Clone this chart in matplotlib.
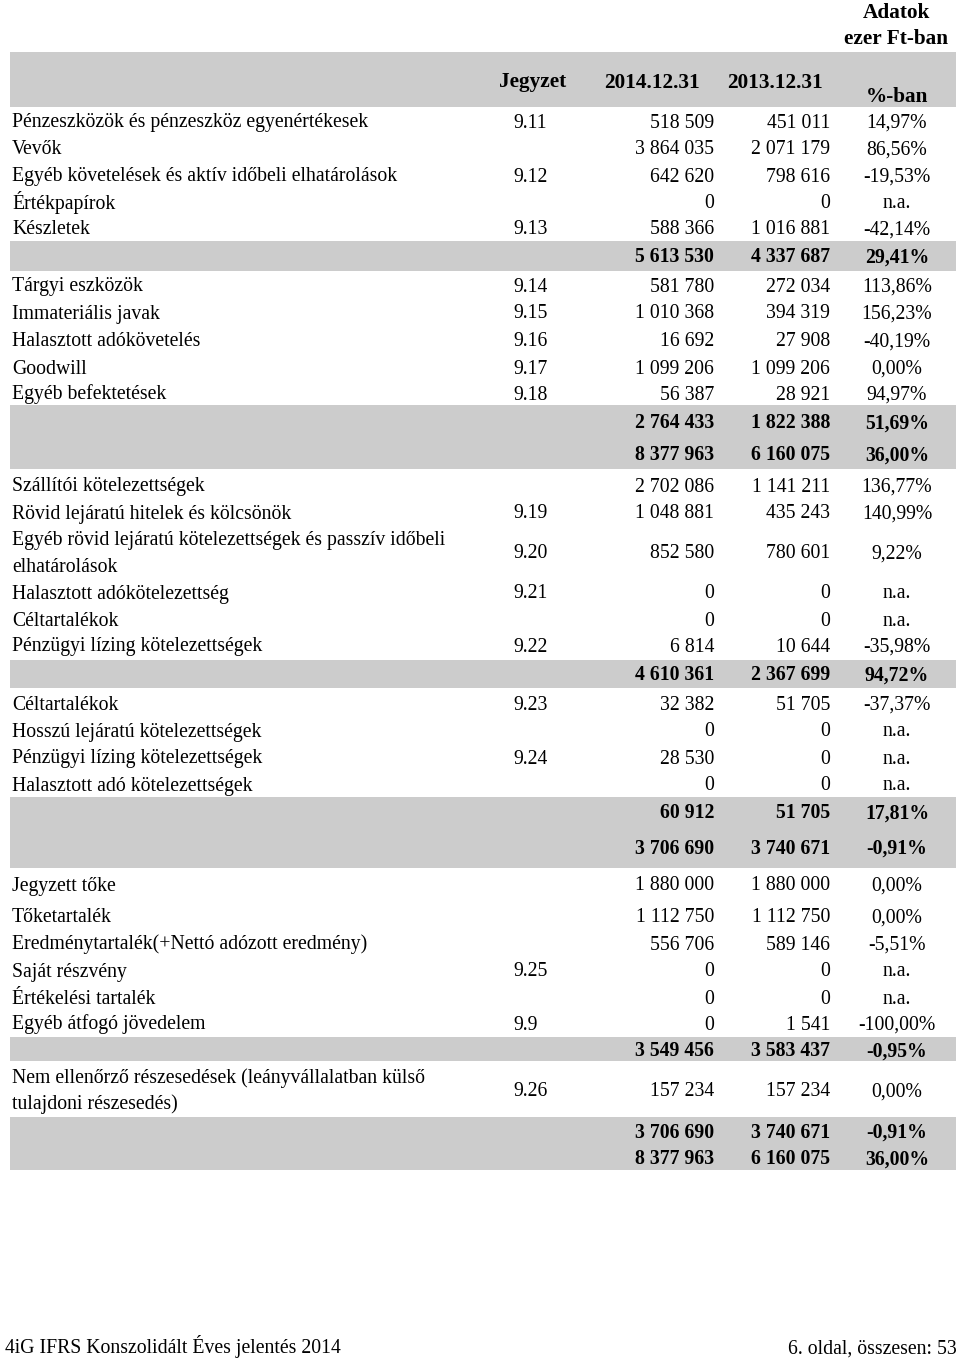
import matplotlib.pyplot as plt

# table content (empty label = subtotal row, drawn bold)
labels = [
    "Pénzeszközök és pénzeszköz egyenértékesek", "Vevők",
    "Egyéb követelések és aktív időbeli elhatárolások", "Értékpapírok", "Készletek", "",
    "Tárgyi eszközök", "Immateriális javak", "Halasztott adókövetelés", "Goodwill",
    "Egyéb befektetések", "", "",
    "Szállítói kötelezettségek", "Rövid lejáratú hitelek és kölcsönök",
    "Egyéb rövid lejáratú kötelezettségek és passzív időbeli\nelhatárolások",
    "Halasztott adókötelezettség", "Céltartalékok", "Pénzügyi lízing kötelezettségek", "",
    "Céltartalékok", "Hosszú lejáratú kötelezettségek", "Pénzügyi lízing kötelezettségek",
    "Halasztott adó kötelezettségek", "", "",
    "Jegyzett tőke", "Tőketartalék", "Eredménytartalék(+Nettó adózott eredmény)",
    "Saját részvény", "Értékelési tartalék", "Egyéb átfogó jövedelem", "",
    "Nem ellenőrző részesedések (leányvállalatban külső\ntulajdoni részesedés)", "", "",
]
notes = ["9.11", "", "9.12", "", "9.13", "",
         "9.14", "9.15", "9.16", "9.17", "9.18", "", "",
         "", "9.19", "9.20", "9.21", "", "9.22", "",
         "9.23", "", "9.24", "", "", "",
         "", "", "", "9.25", "", "9.9", "",
         "9.26", "", ""]
v2014 = ["518 509", "3 864 035", "642 620", "0", "588 366", "5 613 530",
         "581 780", "1 010 368", "16 692", "1 099 206", "56 387", "2 764 433", "8 377 963",
         "2 702 086", "1 048 881", "852 580", "0", "0", "6 814", "4 610 361",
         "32 382", "0", "28 530", "0", "60 912", "3 706 690",
         "1 880 000", "1 112 750", "556 706", "0", "0", "0", "3 549 456",
         "157 234", "3 706 690", "8 377 963"]
v2013 = ["451 011", "2 071 179", "798 616", "0", "1 016 881", "4 337 687",
         "272 034", "394 319", "27 908", "1 099 206", "28 921", "1 822 388", "6 160 075",
         "1 141 211", "435 243", "780 601", "0", "0", "10 644", "2 367 699",
         "51 705", "0", "0", "0", "51 705", "3 740 671",
         "1 880 000", "1 112 750", "589 146", "0", "0", "1 541", "3 583 437",
         "157 234", "3 740 671", "6 160 075"]
pct = ["14,97%", "86,56%", "-19,53%", "n.a.", "-42,14%", "29,41%",
       "113,86%", "156,23%", "-40,19%", "0,00%", "94,97%", "51,69%", "36,00%",
       "136,77%", "140,99%", "9,22%", "n.a.", "n.a.", "-35,98%", "94,72%",
       "-37,37%", "n.a.", "n.a.", "n.a.", "17,81%", "-0,91%",
       "0,00%", "0,00%", "-5,51%", "n.a.", "n.a.", "-100,00%", "-0,95%",
       "0,00%", "-0,91%", "36,00%"]
headers = ["Jegyzet", "2014.12.31", "2013.12.31", "%-ban"]

# layout (pixel coordinates, row_y = vertical centre of the row text)
row_y = [121, 148, 175, 202, 228, 256,
         285, 312, 340, 367, 393, 422, 454,
         485, 512, 552, 592, 619, 645, 674,
         703, 730, 757, 784, 812, 847,
         884, 916, 943, 970, 997, 1023, 1050,
         1090, 1131, 1158]
bands = [(52, 107), (241, 271), (405, 469), (660, 688), (797, 868), (1037, 1061), (1117, 1170)]
band_color = "#cccccc"
base = 6.5  # centre -> baseline offset

plt.rcParams['font.family'] = ['Liberation Serif', 'DejaVu Serif']
fs = 14.2
hfs = 15.3

fig = plt.figure(figsize=(9.6, 13.6), dpi=100)
ax = fig.add_axes([0, 0, 1, 1])
ax.set_xlim(0, 960)
ax.set_ylim(1360, 0)
ax.axis('off')

for y0, y1 in bands:
    ax.axhspan(y0, y1, xmin=10 / 960, xmax=956 / 960, color=band_color, lw=0, zorder=0)


def put(x, y, s, ha, size=fs, weight='normal', **kw):
    ax.text(x, y + base, s, ha=ha, va='baseline', fontsize=size, fontweight=weight, **kw)


put(896, 12, "Adatok", 'center', hfs, 'bold')
put(896, 38, "ezer Ft-ban", 'center', hfs, 'bold')
put(533, 81, headers[0], 'center', hfs, 'bold')
put(652, 81, headers[1], 'center', hfs, 'bold')
put(775, 81, headers[2], 'center', hfs, 'bold')
put(897, 95, headers[3], 'center', hfs, 'bold')

for i, y in enumerate(row_y):
    w = 'bold' if labels[i] == "" else 'normal'
    if labels[i]:
        lines = labels[i].split("\n")
        for k, line in enumerate(lines):
            put(12, y + (k - (len(lines) - 1) / 2) * 26, line, 'left')
    if notes[i]:
        put(513, y, notes[i], 'left')
    put(714, y, v2014[i], 'right', weight=w)
    put(830, y, v2013[i], 'right', weight=w)
    put(897, y, pct[i], 'center', weight=w)

put(5, 1347, "4iG IFRS Konszolidált Éves jelentés 2014", 'left')
put(957, 1347, "6. oldal, összesen: 53", 'right')

fig.savefig('out.png', dpi=100)
